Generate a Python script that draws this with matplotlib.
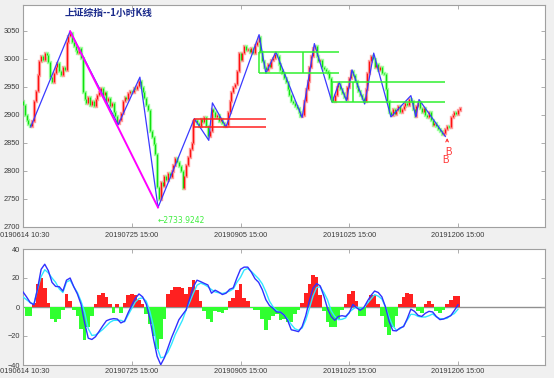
import matplotlib
matplotlib.use('Agg')
import matplotlib.pyplot as plt
import numpy as np

plt.rcParams['font.family'] = ['Liberation Sans', 'Noto Sans CJK SC', 'DejaVu Sans']

# ---------------- data ----------------
title = '上证综指--1小时K线'
tick_bars = [0, 120, 240, 360, 480]
tick_labels = ['20190614 10:30', '20190725 15:00', '20190905 15:00',
               '20191025 15:00', '20191206 15:00']
price_ticks = [2700, 2750, 2800, 2850, 2900, 2950, 3000, 3050]
macd_ticks = [-40, -20, 0, 20, 40]

# closes sampled every 2 hourly bars (bar 0, 2, 4, ...)
first_open = 2925
closes = [
    2918, 2900, 2890, 2884, 2879, 2888, 2925, 2942, 2970, 2995,
    3004, 2998, 3010, 3006, 2994, 2968, 2958, 2975, 2985, 2992,
    2978, 2970, 2985, 2980, 3030, 3040, 3046, 3030, 3022, 3015,
    3010, 3020, 3002, 2940, 2928, 2920, 2932, 2918, 2925, 2915,
    2928, 2935, 2940, 2948, 2935, 2940, 2925, 2930, 2915, 2920,
    2905, 2898, 2885, 2890, 2903, 2925, 2932, 2928, 2938, 2942,
    2940, 2948, 2945, 2952, 2960, 2950, 2940, 2930, 2918, 2908,
    2870, 2860, 2848, 2830, 2770, 2750, 2780, 2772, 2790, 2784,
    2795, 2788, 2800, 2810, 2822, 2815, 2808, 2800, 2768, 2790,
    2810, 2825, 2838, 2850, 2888, 2890, 2885, 2880, 2892, 2886,
    2895, 2880, 2862, 2870, 2910, 2905, 2895, 2900, 2888, 2892,
    2885, 2880, 2882, 2905, 2925, 2940, 2950, 2955, 2978, 3010,
    2998, 3010, 3022, 3015, 3018, 3012, 3020, 3010, 3025, 3030,
    3038, 3012, 2995, 2985, 2980, 2990, 2985, 2998, 3002, 3008,
    3005, 2990, 2980, 2975, 2965, 2958, 2945, 2935, 2925, 2920,
    2915, 2912, 2905, 2898, 2900, 2925, 2945, 2960, 2985, 3005,
    3020, 3022, 3005, 2995, 2998, 2985, 2982, 2978, 2975, 2965,
    2930, 2925, 2935, 2950, 2955, 2945, 2938, 2932, 2928, 2950,
    2965, 2978, 2970, 2960, 2950, 2942, 2935, 2930, 2925, 2945,
    2975, 2995, 3005, 3000, 2985, 2990, 2980, 2985, 2975, 2972,
    2945, 2925, 2905, 2900, 2910, 2902, 2908, 2915, 2905, 2910,
    2915, 2920, 2918, 2928, 2925, 2910, 2898, 2915, 2922, 2912,
    2905, 2912, 2900, 2895, 2905, 2890, 2882, 2885, 2880, 2875,
    2870, 2866, 2868, 2875, 2880, 2878, 2895, 2900, 2905, 2902,
    2908, 2912,
]

# zigzag pivots (bar index, price)
zz_bars = [8.5, 52, 105, 129, 149, 189, 205, 209, 224, 260.5, 268, 279, 308,
           321.5, 341, 349, 357, 363, 377, 387, 406, 428, 433.5, 437, 466]
zz_prices = [2878, 3049, 2882, 2967, 2734, 2893, 2854, 2921, 2878, 3043, 2974,
             3012, 2895, 3027, 2922, 2958, 2925, 2980, 2919, 3010, 2896, 2934,
             2896, 2927, 2861]
mag_bars = [52, 149]
mag_prices = [3049, 2734]
low_label = '←2733.9242'

# boxes: (start bar, end bar, upper, lower, divider bars)
red_box = (189, 268, 2893, 2878, [189])
green_boxes = [(260.5, 349, 3012, 2974, [260.5, 308.5]),
               (341, 466, 2958, 2922, [341, 364.5])]

# MACD sampled every 4 hourly bars
dif = [10.4, 6.9, 3, 1.5, 12.5, 26, 29.5, 25, 17, 14.2,
       14, 11, 18.5, 20, 14, 9, 2, -11, -21.5, -22.4,
       -20.5, -16.8, -13, -9.5, -8.5, -8, -8.3, -11, -9.8, -4,
       1.2, 6, 9, 7, 2, -8, -22, -34, -39.8, -35,
       -28, -21, -15, -8.8, -5.3, -2, 6, 14, 18.5, 17.5,
       16.3, 15.2, 9.5, 11.6, 10.3, 8.6, 9.5, 12.2, 13.2, 20,
       26, 27.5, 27.5, 24, 19.5, 17, 12, 5, 1, -1,
       -3.5, -3.5, -5.5, -9.2, -15.7, -16.3, -17, -13.5, -6, 4.5,
       13, 16.2, 14.5, 7.5, -1, -6.5, -9.2, -6.5, -6, -6.5,
       -4, 1.8, -0.5, -2.3, -0.5, 4, 8, 11, 10, 7,
       0, -10, -16.2, -16.5, -14.5, -13.5, -8, -1.5, -3, -5.8,
       -6.5, -4.3, -3, -3.4, -6.5, -8.7, -8.3, -7.1, -6, -2.4,
       1.5]
dea = [6.9, 5, 3, 2, 12, 21, 25.7, 23.5, 20, 17,
       12.5, 10, 17.2, 18.5, 14, 10, 4, -3.5, -15, -19.6,
       -19.3, -17.5, -15.5, -13, -10.5, -9.2, -9.2, -9.2, -10.2, -5.5,
       -1, 3.5, 5.8, 6.3, 4, -3, -13.5, -28, -35, -34.5,
       -31, -25.5, -19, -14, -9, -2, 3.5, 9.5, 15, 16.5,
       15.5, 14, 12, 10.4, 9.8, 9.3, 10, 11, 12.5, 17,
       20.5, 25.5, 26.6, 24.5, 22, 19.5, 16, 10.5, 4, 0,
       -2.5, -3.5, -5.5, -8.5, -12, -15, -16, -14.5, -9, -1,
       7.5, 13.5, 13.9, 10, 5, -2.5, -6.5, -8.7, -8.5, -7.5,
       -3.5, -1.5, 0, -0.8, -0.5, 2.5, 5.5, 8.5, 7.5, 5.5,
       0, -7, -13, -16, -15, -13, -9, -5, -5.2, -6.5,
       -6.9, -6.9, -6, -4.8, -6.8, -8, -8.1, -7.8, -5.8, -4.5,
       -1.5]
hist = [-1, -6, -6.5, 3, 16, 20, 13, 3, -8, -10.5,
        -8, -2, 9, 4, -2, -6, -15, -23, -14, -6,
        2, 8, 10, 7, 2, -4, 2, -4, 3, 8,
        9, 8, 5, 2, -5, -12, -20, -29, -22, -8,
        9, 12, 14, 13.5, 13, 9, 14, 18.5, 12, 4,
        -3, -8, -10, -3, -3.5, -4, -2, 4, 6, 12,
        16, 6, 4, -1, -2, -2, -8, -16, -9, -6,
        -5, -9, -8, -10, -10.4, -5, -2, 3, 10, 16,
        22, 21, 8, -3, -10, -14, -14, -8, -2, 2,
        9, 11, 4, -6, -6, 3, 8, 8, 2, -6,
        -14, -19, -14, -6, 2, 7, 10, 9, 2, -3,
        -4, 2, 4, 2, -3, -4, -2, 2, 5, 7.5,
        7.5]

# ---------------- figure ----------------
W, H = 554, 378
fig = plt.figure(figsize=(W / 100, H / 100), dpi=100, facecolor='#f0f0f0')
L, R = 23 / W, 545 / W
ax1 = fig.add_axes([L, 1 - 226.5 / H, R - L, (226.5 - 5) / H])
ax2 = fig.add_axes([L, 1 - 365 / H, R - L, (365 - 249) / H])

xmax = 576
frame_col = '#a0a0a0'
lab_col = '#3a3a3a'
for ax, xpad in ((ax1, 4), (ax2, 2.5)):
    ax.set_facecolor('white')
    ax.set_xlim(0, xmax)
    for s in ax.spines.values():
        s.set_color(frame_col)
        s.set_linewidth(0.8)
    ax.tick_params(direction='in', length=3, width=0.6, colors=frame_col,
                   labelcolor=lab_col, labelsize=5.3, top=True, right=True, pad=2)
    ax.tick_params(axis='x', pad=xpad)
    ax.set_xticks(tick_bars)
    ax.set_xticklabels(tick_labels)

# candles
cx = np.arange(len(closes)) * 2
c = np.array(closes, dtype=float)
o = np.concatenate([[first_open], c[:-1]])
up = c >= o
body_col = np.where(up, '#ff1010', '#10e010')
halo_col = np.where(up, '#ffa0a0', '#a0ffa0')
ax1.vlines(cx, o, c, colors=list(halo_col), linewidth=2.4, capstyle='projecting', zorder=2)
ax1.vlines(cx, o, c, colors=list(body_col), linewidth=0.9, capstyle='butt', zorder=3)

# zigzag and magenta trend line
ax1.plot(zz_bars, zz_prices, color='#3a3aff', lw=0.9, zorder=4)
ax1.plot(mag_bars, mag_prices, color='#ff00ff', lw=1.4, zorder=5)

# boxes
def draw_box(ax, box, col):
    x0, x1, hi, lo, divs = box
    ax.hlines([hi, lo], x0, x1, colors=col, lw=1.1, zorder=4)
    ax.vlines(divs, lo, hi, colors=col, lw=1.1, zorder=4)

draw_box(ax1, red_box, '#ff2020')
for gb in green_boxes:
    draw_box(ax1, gb, '#30f030')

ax1.text(149, 2710, low_label, color='#40ee40', fontsize=5.5, ha='left', va='center',
         family=['DejaVu Sans'])
ax1.annotate('', xy=(468, 2863), xytext=(468, 2847),
             arrowprops=dict(arrowstyle='->', color='#ff3030', lw=0.7, mutation_scale=5))
ax1.text(469, 2834, 'B', color='#ff3030', fontsize=7, ha='center', va='center')
ax1.text(466, 2819, 'B', color='#ff3030', fontsize=7, ha='center', va='center')

ax1.set_ylim(2700, 3096)
ax1.set_yticks(price_ticks)
ax1.text(0.163, 0.962, title, transform=ax1.transAxes, ha='center', va='center',
         fontsize=7, fontweight='bold', color='#1c2c8c',
         family=['Noto Sans CJK SC', 'DejaVu Sans'])

# MACD
mx = np.arange(len(dif)) * 4
h = np.array(hist, dtype=float)
ax2.axhline(0, color='#909090', lw=1.0, zorder=1)
ax2.bar(mx, h, width=4, color=np.where(h >= 0, '#ff2020', '#30ff30'), linewidth=0, zorder=2)
ax2.plot(mx, dea, color='#30e8ff', lw=1.0, zorder=3)
ax2.plot(mx, dif, color='#3030ff', lw=1.0, zorder=4)
ax2.set_ylim(-40, 40)
ax2.set_yticks(macd_ticks)

fig.savefig('out.png', dpi=100, facecolor=fig.get_facecolor())
